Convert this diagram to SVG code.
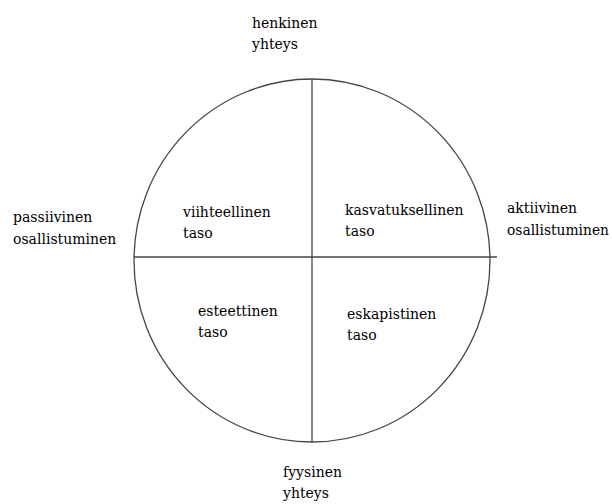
<svg xmlns="http://www.w3.org/2000/svg" width="612" height="504" viewBox="0 0 612 504">
<style>
.t{font-family:'DejaVu Serif','Noto Serif','Liberation Serif',serif;font-size:14px;fill:#000}
.l{stroke:#444;stroke-width:1.3;fill:none}
</style>
<rect width="612" height="504" fill="#fff"/>
<g id="connectors">
<ellipse class="l" cx="312" cy="260.5" rx="178" ry="181.5"/>
<line class="l" x1="312" y1="79" x2="312" y2="442"/>
<line class="l" x1="134" y1="257" x2="497" y2="257"/>
</g>
<g id="top"><text class="t" x="252" y="28">henkinen</text><text class="t" x="252" y="49">yhteys</text></g>
<g id="bottom"><text class="t" x="283" y="477">fyysinen</text><text class="t" x="283" y="498">yhteys</text></g>
<g id="left"><text class="t" x="13" y="222">passiivinen</text><text class="t" x="13" y="244">osallistuminen</text></g>
<g id="right"><text class="t" x="507" y="213">aktiivinen</text><text class="t" x="507" y="235" textLength="102" lengthAdjust="spacingAndGlyphs">osallistuminen</text></g>
<g id="q1"><text class="t" x="183" y="217">viihteellinen</text><text class="t" x="183" y="238">taso</text></g>
<g id="q2"><text class="t" x="345" y="215">kasvatuksellinen</text><text class="t" x="345" y="236">taso</text></g>
<g id="q3"><text class="t" x="198" y="316">esteettinen</text><text class="t" x="198" y="337">taso</text></g>
<g id="q4"><text class="t" x="347" y="319">eskapistinen</text><text class="t" x="347" y="340">taso</text></g>
</svg>
